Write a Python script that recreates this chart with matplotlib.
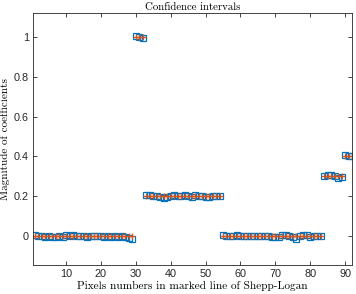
import numpy as np
import matplotlib
matplotlib.use('Agg')
from matplotlib import pyplot as plt

# pixel index groups along the marked line and their true values
groups = [(1, 29), (30, 32), (33, 54), (55, 83), (84, 89), (90, 92)]
true_vals = [0.0, 1.0, 0.2, 0.0, 0.3, 0.4]

# estimated coefficients
est_1 = [0.004, 0.003, 0.002, -0.003, 0.001, -0.004, -0.006, 0.002, -0.003, 0.004,
         0.001, 0.005, 0.003, 0.001, 0.000, -0.002, 0.001, 0.000, -0.001, 0.002,
         -0.002, 0.000, -0.004, 0.001, -0.003, 0.000, -0.002, -0.008, -0.012]
est_2 = [1.005, 1.002, 0.996]
est_3 = [0.208, 0.205, 0.203, 0.199, 0.196, 0.193, 0.198, 0.201, 0.204, 0.202, 0.199,
         0.205, 0.203, 0.196, 0.206, 0.200, 0.202, 0.194, 0.195, 0.200, 0.203, 0.199]
est_4 = [0.004, 0.002, 0.001, 0.003, 0.004, 0.002, 0.000, 0.001, 0.003, 0.001,
         0.002, 0.000, 0.001, 0.002, -0.002, -0.004, -0.003, 0.007, 0.005, 0.001,
         -0.003, -0.013, 0.002, 0.008, 0.006, -0.002, -0.001, 0.000, 0.001]
est_5 = [0.302, 0.306, 0.308, 0.300, 0.290, 0.298]
est_6 = [0.405, 0.403, 0.402]

ests = [est_1, est_2, est_3, est_4, est_5, est_6]

blue = '#0072BD'
orange = '#D95319'

plt.rcParams['font.family'] = ['Liberation Sans', 'DejaVu Sans']
plt.rcParams['mathtext.fontset'] = 'cm'

fig = plt.figure(figsize=(3.56, 2.94), dpi=100)
ax = fig.add_axes([33 / 356, 29 / 294, 319 / 356, 252 / 294])

for (a, b), tv, est in zip(groups, true_vals, ests):
    x = np.arange(a, b + 1)
    ax.plot(x, est, 's', color=blue, mfc='none', ms=4.6, mew=0.9)
    ax.plot(x, [tv] * len(x), '+', color=orange, ms=4.5, mew=0.9)

ax.set_xlim(0.5, 92)
ax.set_ylim(-0.145, 1.12)
ax.set_xticks([10, 20, 30, 40, 50, 60, 70, 80, 90])
ax.set_yticks([0, 0.2, 0.4, 0.6, 0.8, 1])
ax.set_yticklabels(['0', '0.2', '0.4', '0.6', '0.8', '1'])
ax.tick_params(direction='in', length=3, width=0.6, labelsize=7.8, colors='#262626',
               top=True, right=True, pad=3)
for s in ax.spines.values():
    s.set_linewidth(0.6)
    s.set_color('#262626')

ax.set_title('Confidence intervals', fontsize=7.8, family='cmr10', pad=2)
ax.set_xlabel('Pixels numbers in marked line of Shepp-Logan', fontsize=8.1, family='cmr10', labelpad=1)
ax.set_ylabel('Magnitude of coefficients', fontsize=8, family='cmr10', labelpad=3)

fig.savefig('out.png', dpi=100)
